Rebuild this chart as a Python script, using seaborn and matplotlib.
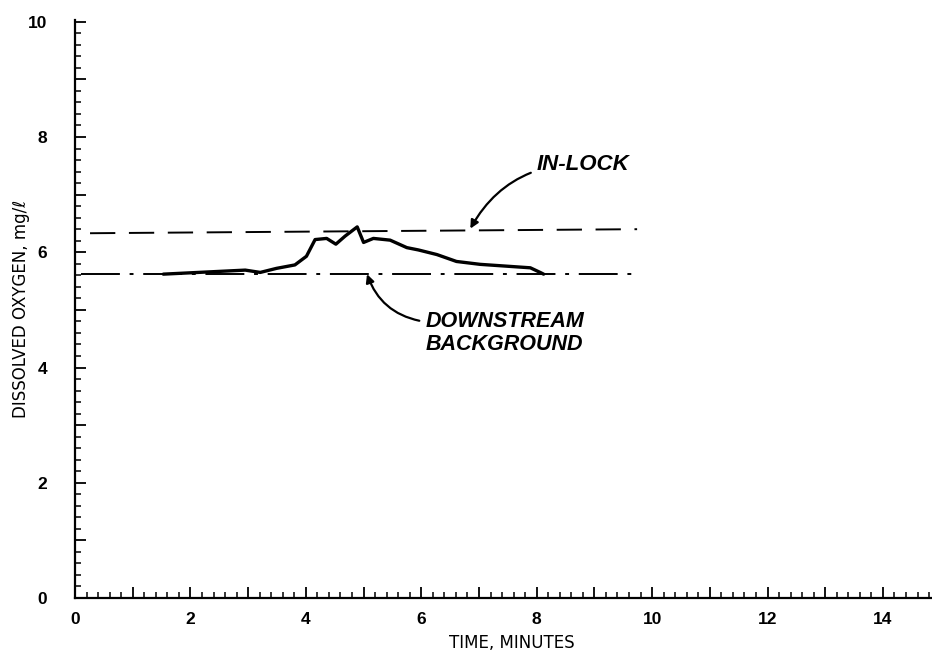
import matplotlib

matplotlib.use("Agg")
import matplotlib.pyplot as plt
import numpy as np
import pandas as pd
import seaborn as sns
from matplotlib.ticker import FuncFormatter, MultipleLocator

# dissolved oxygen trace
time_min = [1.53, 2.95, 3.21, 3.49, 3.81, 4.01, 4.16, 4.36, 4.52, 4.68, 4.89,
            5.00, 5.17, 5.46, 5.75, 5.95, 6.27, 6.61, 7.02, 7.89, 8.06, 8.12]
oxygen = [5.62, 5.69, 5.65, 5.72, 5.78, 5.93, 6.22, 6.24, 6.14, 6.28, 6.44,
          6.17, 6.24, 6.21, 6.08, 6.04, 5.96, 5.84, 5.79, 5.73, 5.65, 5.62]

# reference levels
inlock_x = [0.26, 9.74]
inlock_y = [6.33, 6.40]
background_x = [0.1, 9.74]
background_y = [5.62, 5.62]

sns.set_style("ticks")
plt.rcParams["font.family"] = ["Liberation Sans", "DejaVu Sans"]
plt.rcParams["text.color"] = "black"
plt.rcParams["axes.labelcolor"] = "black"

fig = plt.figure(figsize=(9.32, 6.56), dpi=100)
ax = fig.add_axes([0.0805, 0.0884, 0.9195, 0.8811])

trace = pd.DataFrame({"time": time_min, "oxygen": oxygen})
sns.lineplot(data=trace, x="time", y="oxygen", ax=ax, color="black",
             linewidth=2.4, sort=False, estimator=None)
ax.plot(inlock_x, inlock_y, color="black", linewidth=1.4, dashes=(13, 7))
ax.plot(background_x, background_y, color="black", linewidth=1.4,
        dashes=(20, 5, 2, 5))

ax.set_xlim(0, 14.85)
ax.set_ylim(0, 10.03)
sns.despine(ax=ax)
for side in ("left", "bottom"):
    ax.spines[side].set_linewidth(1.6)
    ax.spines[side].set_color("black")

ax.xaxis.set_major_locator(MultipleLocator(1))
ax.xaxis.set_minor_locator(MultipleLocator(0.2))
ax.yaxis.set_major_locator(MultipleLocator(1))
ax.yaxis.set_minor_locator(MultipleLocator(0.2))
even = FuncFormatter(lambda v, p: f"{v:.0f}" if round(v) % 2 == 0 else "")
ax.xaxis.set_major_formatter(even)
ax.yaxis.set_major_formatter(even)
ax.tick_params(which="major", direction="in", length=8, width=1.3,
               colors="black", labelsize=12.5)
ax.tick_params(which="minor", direction="in", length=4, width=1.1,
               colors="black")
for lab in ax.get_xticklabels() + ax.get_yticklabels():
    lab.set_fontweight("bold")
ax.tick_params(axis="x", pad=10)
ax.tick_params(axis="y", pad=20)

label_font = dict(fontsize=12, family="DejaVu Sans", color="black")
ax.set_xlabel("TIME, MINUTES", **label_font)
ax.xaxis.set_label_coords(0.51, -0.062)
ax.set_ylabel("DISSOLVED OXYGEN, mg/ℓ", **label_font)
ax.yaxis.set_label_coords(-0.052, 0.5)

ax.annotate("IN-LOCK", xy=(6.85, 6.41), xytext=(8.0, 7.53),
            fontsize=16, fontweight="bold", fontstyle="italic", color="black",
            va="center", ha="left",
            arrowprops=dict(arrowstyle="-|>", color="black", lw=1.6,
                            connectionstyle="arc3,rad=0.3",
                            shrinkA=2, shrinkB=0, mutation_scale=12))
ax.annotate("DOWNSTREAM\nBACKGROUND", xy=(5.06, 5.62), xytext=(6.07, 4.6),
            fontsize=15.5, fontweight="bold", fontstyle="italic", color="black",
            va="center", ha="left", linespacing=1.15,
            arrowprops=dict(arrowstyle="-|>", color="black", lw=1.6,
                            connectionstyle="arc3,rad=-0.3",
                            shrinkA=2, shrinkB=0, mutation_scale=12,
                            relpos=(0, 0.75)))

fig.savefig("out.png", dpi=100)
